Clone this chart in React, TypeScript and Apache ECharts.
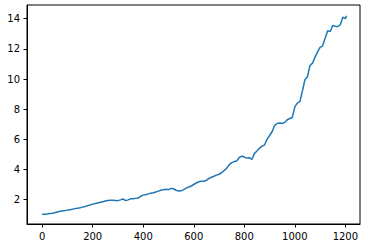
import React, { useEffect, useRef } from "react";
import * as echarts from "echarts";

const xValues: number[] = [
  0, 10, 20, 30, 40, 50, 60, 70, 80, 90, 100, 110, 120, 130, 140, 150, 160, 170, 180, 190,
  200, 210, 220, 230, 240, 250, 260, 270, 280, 290, 300, 310, 320, 330, 340, 350, 360, 370, 380, 390,
  400, 410, 420, 430, 440, 450, 460, 470, 480, 490, 500, 510, 520, 530, 540, 550, 560, 570, 580, 590,
  600, 610, 620, 630, 640, 650, 660, 670, 680, 690, 700, 710, 720, 730, 740, 750, 760, 770, 780, 790,
  800, 810, 820, 830, 840, 850, 860, 870, 880, 890, 900, 910, 920, 930, 940, 950, 960, 970, 980, 990,
  1000, 1010, 1020, 1030, 1040, 1050, 1060, 1070, 1080, 1090, 1100, 1110, 1120, 1130, 1140, 1150, 1160, 1170, 1180, 1190,
  1200, 1205,
];

const yValues: number[] = [
  1.02, 1.03, 1.04, 1.08, 1.1, 1.13, 1.18, 1.22, 1.25, 1.27, 1.3, 1.33, 1.36, 1.4, 1.43, 1.46, 1.5, 1.54, 1.6, 1.64,
  1.7, 1.74, 1.78, 1.82, 1.86, 1.9, 1.94, 1.96, 1.95, 1.94, 1.93, 1.98, 2.04, 1.93, 1.98, 2.05, 2.06, 2.08, 2.1, 2.22,
  2.3, 2.32, 2.38, 2.42, 2.45, 2.5, 2.56, 2.62, 2.66, 2.68, 2.66, 2.74, 2.72, 2.62, 2.57, 2.58, 2.66, 2.76, 2.84, 2.9,
  3.0, 3.1, 3.18, 3.21, 3.22, 3.28, 3.4, 3.48, 3.55, 3.62, 3.68, 3.78, 3.92, 4.08, 4.3, 4.45, 4.52, 4.56, 4.8, 4.88,
  4.82, 4.75, 4.78, 4.66, 5.05, 5.22, 5.4, 5.55, 5.62, 6.0, 6.25, 6.5, 6.92, 7.05, 7.08, 7.05, 7.12, 7.3, 7.38, 7.45,
  8.15, 8.4, 8.5, 9.2, 9.95, 10.15, 10.9, 11.05, 11.45, 11.8, 12.1, 12.2, 12.7, 13.2, 13.15, 13.55, 13.5, 13.48, 13.6, 14.1,
  14.0, 14.2,
];

const xTicks: number[] = [0, 200, 400, 600, 800, 1000, 1200];
const yTicks: number[] = [2, 4, 6, 8, 10, 12, 14];

export default function App() {
  const ref = useRef<HTMLDivElement>(null);
  useEffect(() => {
    if (!ref.current) return;
    const chart = echarts.init(ref.current, null, { renderer: "svg" });
    const font = "DejaVu Sans";
    chart.setOption({
      animation: false,
      backgroundColor: "#ffffff",
      grid: {
        left: 27,
        right: 8,
        top: 5,
        bottom: 24,
        show: true,
        borderColor: "#000000",
        borderWidth: 1,
        backgroundColor: "transparent",
      },
      xAxis: {
        type: "value",
        min: -60,
        max: 1258,
        splitLine: { show: false },
        axisLine: { show: true, onZero: false, lineStyle: { color: "#000000", width: 1 } },
        axisTick: { show: true, length: 3.5, lineStyle: { color: "#000000" }, customValues: xTicks },
        axisLabel: {
          show: true,
          customValues: xTicks,
          formatter: (v: number) => String(v),
          margin: 7,
          fontSize: 10,
          fontFamily: font,
          color: "#000000",
        },
      },
      yAxis: {
        type: "value",
        min: 0.38,
        max: 14.91,
        splitLine: { show: false },
        axisLine: { show: true, onZero: false, lineStyle: { color: "#000000", width: 1 } },
        axisTick: { show: true, length: 3.5, lineStyle: { color: "#000000" }, customValues: yTicks },
        axisLabel: {
          show: true,
          customValues: yTicks,
          formatter: (v: number) => String(v),
          margin: 7,
          fontSize: 10,
          fontFamily: font,
          color: "#000000",
        },
      },
      series: [
        {
          type: "line",
          data: xValues.map((x, i) => [x, yValues[i]]),
          showSymbol: false,
          symbol: "none",
          lineStyle: { color: "#1f77b4", width: 1.5 },
        },
      ],
    });
    return () => chart.dispose();
  }, []);
  return (
    <div
      ref={ref}
      style={{ position: "absolute", left: 0, top: 0, width: 368, height: 248 }}
    />
  );
}
